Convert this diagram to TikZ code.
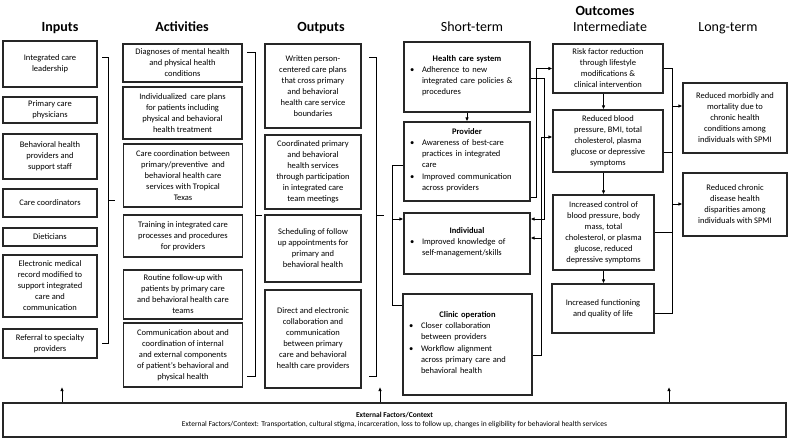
\documentclass[tikz,border=0pt]{standalone}
\usepackage{fontspec}
\setmainfont{Carlito}
\usetikzlibrary{arrows.meta}
\tikzset{
	box/.style={draw=black!85, line width=1.1pt, align=center, inner sep=2pt, font=\fontsize{8.5}{11}\selectfont},
	blist/.style={box, align=left, inner xsep=4pt},
	sz/.style 2 args={minimum width=#1, minimum height=#2},
	hd/.style={anchor=base, font=\fontsize{14}{16}\selectfont},
	hdb/.style={anchor=base, font=\fontsize{14}{16}\selectfont\bfseries},
	arr/.style={-{Latex[length=4pt,width=3.5pt]}, line width=.8pt},
	brk/.style={line width=.8pt},
}
\newcommand{\stitem}[1]{\par\lineskip=0pt\noindent\makebox[14pt][l]{\hspace{2pt}\textbullet}\parbox[t]{\dimexpr\linewidth-14pt\relax}{\raggedright\strut#1\strut}}
\newcommand{\sttitle}[1]{\noindent\makebox[\linewidth]{\textbf{#1}}}
\begin{document}
\begin{tikzpicture}[x=1pt,y=-1pt]
			\def\brin{108} \def\brac{255} \def\brout{376} \def\spine{392} \def\imspine{672}
			\useasboundingbox (0,0) rectangle (789,440);
			% column heads
			\node[hdb] (hin) at (60,31) {Inputs};
			\node[hdb] (hac) at (182,31) {Activities};
			\node[hdb] (hout) at (321,31) {Outputs};
			\node[hd] (hst) at (472,31) {Short-term};
			\node[hdb] (hoc) at (605,15) {Outcomes};
			\node[hd] (him) at (610,31) {Intermediate};
			\node[hd] (hlt) at (728,31) {Long-term};
			% inputs
			\node[box, sz={94}{46}] (in1) at (50,64) {Integrated care\\leadership};
			\node[box, sz={94}{26}] (in2) at (50,110) {Primary care\\physicians};
			\node[box, sz={94}{45}] (in3) at (50,156.5) {Behavioral health\\providers and\\support staff};
			\node[box, sz={94}{28}] (in4) at (50,203) {Care coordinators};
			\node[box, sz={94}{18}] (in5) at (50,237) {Dieticians};
			\node[box, sz={94}{62}] (in6) at (50,286) {Electronic medical\\record modified to\\support integrated\\care and\\communication};
			\node[box, sz={94}{29}] (in7) at (50,343.5) {Referral to specialty\\providers};
			\draw[brk] (102,57) -- (\brin,57) -- (\brin,343) -- (102,343);
			\draw[brk] (\brin,200) -- (115,200);
			% activities
			\node[box, sz={119}{38}] (ac1) at (182.5,63) {Diagnoses of mental health\\and physical health\\conditions};
			\node[box, sz={119}{52}] (ac2) at (182.5,113) {Individualized\ \ care plans\\for patients including\\physical and behavioral\\health treatment};
			\node[box, sz={119}{63}] (ac3) at (183,175.5) {Care coordination between\\primary/preventive\ \ and\\behavioral health care\\services with Tropical\\Texas};
			\node[box, sz={119}{42}] (ac4) at (183,236) {Training in integrated care\\processes and procedures\\for providers};
			\node[box, sz={119}{49}] (ac5) at (183,294.5) {Routine follow-up with\\patients by primary care\\and behavioral health care\\teams};
			\node[box, sz={119}{64}] (ac6) at (183,355) {Communication about and\\coordination of internal\\and external components\\of patient's behavioral and\\physical health};
			\draw[brk] (247,52) -- (\brac,52) -- (\brac,376) -- (247,376);
			\draw[brk] (\brac,215) -- (262,215);
			% outputs
			\node[box, sz={96}{84}] (out1) at (313,86) {Written person-\\centered care plans\\that cross primary\\and behavioral\\health care service\\boundaries};
			\node[box, sz={96}{74}] (out2) at (313,172) {Coordinated primary\\and behavioral\\health services\\through participation\\in integrated care\\team meetings};
			\node[box, sz={96}{67}] (out3) at (313,248.5) {Scheduling of follow\\up appointments for\\primary and\\behavioral health};
			\node[box, sz={96}{98}] (out4) at (313,339) {Direct and electronic\\collaboration and\\communication\\between primary\\care and behavioral\\health care providers};
			\draw[brk] (369,57) -- (\brout,57) -- (\brout,376) -- (369,376);
			\draw[brk] (\brout,215) -- (384,215);
			% short-term
			\node[blist, text width=118, minimum height=70] (st1) at (467,77) {\sttitle{Health care system}\stitem{Adherence to new\newline integrated care policies \&\newline procedures}};
			\node[blist, text width=118, minimum height=79] (st2) at (467,161.5) {\sttitle{Provider}\stitem{Awareness of best-care\newline practices in integrated\newline care}\stitem{Improved communication\newline across providers}};
			\node[blist, text width=118, minimum height=61] (st3) at (467,243.5) {\sttitle{Individual}\stitem{Improved knowledge of\newline self-management/skills}};
			\node[blist, text width=121, minimum height=101] (st4) at (467.5,344.5) {\sttitle{Clinic operation}\stitem{Closer collaboration\newline between providers}\stitem{Workflow alignment\newline across primary care and\newline behavioral health}};
			\draw[brk] (st2.west |- 0,165) -- (\spine,165) -- (\spine,305) -- (st4.west |- 0,305);
			\draw[arr] (\spine,219) -- (st3.west |- 0,219);
			\draw[arr] (st1.south) -- (st2.north);
			% intermediate
			\node[box, sz={110}{49}] (im1) at (608,68.5) {Risk factor reduction\\through lifestyle\\modifications \&\\clinical intervention};
			\node[box, sz={110}{62}] (im2) at (608,141) {Reduced blood\\pressure, BMI, total\\cholesterol, plasma\\glucose or depressive\\symptoms};
			\node[box, sz={101}{75}] (im3) at (603.5,232.5) {Increased control of\\blood pressure, body\\mass, total\\cholesterol, or plasma\\glucose, reduced\\depressive symptoms};
			\node[box, sz={102}{49}] (im4) at (603,308.5) {Increased functioning\\and quality of life};
			\draw[arr] (im1.south -| im3.center) -- (im2.north -| im3.center);
			\draw[arr] (im2.south -| im3.center) -- (im3.north);
			\draw[arr] (im3.south) -- (im4.north -| im3.center);
			% short-term to intermediate
			\coordinate (clinicup) at (541,238);
			\draw[arr] (st1.east |- 0,78) -- (544,78) |- (st3.east |- 0,219);
			\draw[arr] (st2.east |- 0,197) -- (536,197) |- (im1.west);
			\draw[arr] (st4.east |- 0,355) -- (541,355) |- (im2.west |- 0,137);
			\draw[arr] (clinicup) -- (st3.east |- clinicup);
			% long-term
			\node[box, sz={104}{70}] (lt1) at (735,118) {Reduced morbidly and\\mortality due to\\chronic health\\conditions among\\individuals with SPMI};
			\node[box, sz={104}{63}] (lt2) at (735,204.5) {Reduced chronic\\disease health\\disparities among\\individuals with SPMI};
			\draw[brk] (im1.east) -- (\imspine,68.5) -- (\imspine,313) -- (im4.east |- 0,313);
			\draw[brk] (im2.east |- 0,152) -- (\imspine,152);
			\draw[brk] (im3.east) -- (\imspine,232.5);
			\draw[arr] (\imspine,106) -- (lt1.west |- 0,106);
			\draw[arr] (\imspine,204) -- (lt2.west |- 0,204);
			% external factors
			\node[box, sz={783}{34}, font=\fontsize{7.5}{9}\selectfont] (ext) at (394.5,420) {\textbf{External Factors/Context}\\External Factors/Context: Transportation, cultural stigma, incarceration, loss to follow up, changes in eligibility for behavioral health services};
			\coordinate (up1) at (62,387);
			\coordinate (up2) at (380,387);
			\coordinate (up3) at (669,387);
			\draw[arr] (ext.north -| up1) -- (up1);
			\draw[arr] (ext.north -| up2) -- (up2);
			\draw[arr] (ext.north -| up3) -- (up3);
		\end{tikzpicture}
\end{document}
